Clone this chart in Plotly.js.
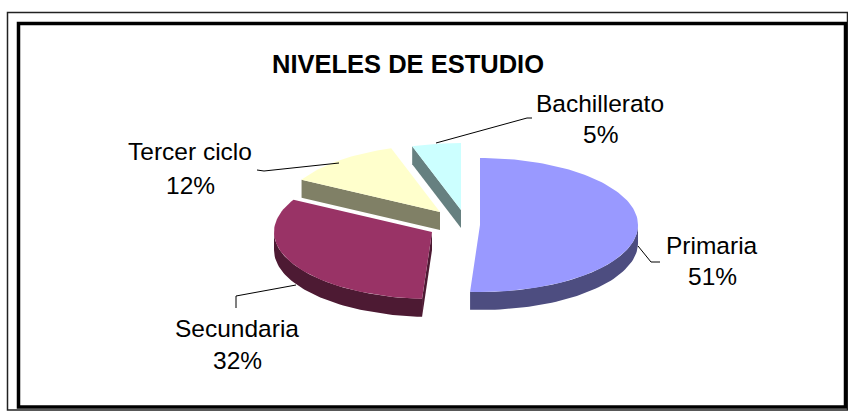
<!DOCTYPE html>
<html>
<head>
<meta charset="utf-8">
<script src="https://cdn.plot.ly/plotly-3.0.1.min.js"></script>
<style>
  html, body { margin: 0; padding: 0; background: #fff; overflow: hidden; }
  #chart { width: 848px; height: 411px; }
</style>
</head>
<body>
<div id="chart"></div>
<script>
const chartTitle = "NIVELES DE ESTUDIO";
const categories = ["Primaria", "Secundaria", "Tercer ciclo", "Bachillerato"];
const percents = [51, 32, 12, 5];

const topColors = ["#9999ff", "#993366", "#ffffcc", "#ccffff"];
const sideColors = ["#4d4d80", "#4d1a33", "#808066", "#668080"];

// each slice is pulled away from the pie, so each one has its own apex (in px)
const apexes = [[480, 225], [432, 232], [440, 212], [461, 210]];
const radiusX = 158;
const radiusY = 67;
const depth = 18;

// label placement: name centre, percent centre
const labelPos = [
  { x: 712, y: 245, py: 276 },
  { x: 237, y: 328, py: 360 },
  { x: 190, y: 151, py: 185 },
  { x: 600, y: 103, py: 134 },
];

// leader lines
const leaders = [
  "M 638 246 L 651 262 L 660 262",
  "M 236 308 L 236 296 L 296 285",
  "M 257 170 L 264 171 L 339 163",
  "M 436 143 L 527 118 L 532 118",
];

function rimPoint(i, turn, dy) {
  const a = turn * 2 * Math.PI;
  return [
    apexes[i][0] + radiusX * Math.sin(a),
    apexes[i][1] - radiusY * Math.cos(a) + dy,
  ];
}

function polygon(points, color) {
  return {
    x: points.map((p) => p[0]),
    y: points.map((p) => p[1]),
    type: "scatter",
    mode: "lines",
    fill: "toself",
    fillcolor: color,
    line: { width: 0, color: color },
    hoverinfo: "skip",
    showlegend: false,
  };
}

function arc(i, from, to, dy) {
  const pts = [];
  const steps = Math.max(2, Math.ceil(Math.abs(to - from) * 200));
  for (let s = 0; s <= steps; s++) {
    pts.push(rimPoint(i, from + ((to - from) * s) / steps, dy));
  }
  return pts;
}

// slice start/end as a fraction of the turn, clockwise from 12 o'clock
const total = percents.reduce((a, b) => a + b, 0);
let running = 0;
const spans = percents.map((v) => {
  const span = [running / total, (running + v) / total];
  running += v;
  return span;
});

const traces = [];
// back slices first so the front ones sit on top
for (const i of [3, 2, 1, 0]) {
  const [from, to] = spans[i];
  const apex = apexes[i];

  // outer wall, only the part facing the viewer
  const wallFrom = Math.max(from, 0.25);
  const wallTo = Math.min(to, 0.75);
  if (wallFrom < wallTo) {
    const wall = arc(i, wallFrom, wallTo, 0).concat(arc(i, wallTo, wallFrom, depth));
    traces.push(polygon(wall, sideColors[i]));
  }

  // cut face, Primaria's is hidden behind its own top
  if (i !== 0) {
    const rim = rimPoint(i, from, 0);
    const rimLow = rimPoint(i, from, depth);
    traces.push(polygon([apex, [apex[0], apex[1] + depth], rimLow, rim], sideColors[i]));
  }

  // top
  traces.push(polygon([apex].concat(arc(i, from, to, 0)), topColors[i]));
}

const textFont = { family: "Liberation Sans, Arial, sans-serif", size: 24.5, color: "#000" };
const annotations = [];
categories.forEach((name, i) => {
  annotations.push({ x: labelPos[i].x, y: labelPos[i].y, text: name, showarrow: false, font: textFont });
  annotations.push({ x: labelPos[i].x, y: labelPos[i].py, text: percents[i] + "%", showarrow: false, font: textFont });
});

const shapes = [
  { type: "rect", x0: 7.5, y0: 12.5, x1: 847.5, y1: 410, line: { color: "#222", width: 1.5 } },
  { type: "rect", x0: 18.5, y0: 23.5, x1: 845.5, y1: 407, line: { color: "#000", width: 3.5 } },
].concat(leaders.map((path) => ({ type: "path", path, line: { color: "#000", width: 1 } })));

const layout = {
  width: 848,
  height: 411,
  margin: { t: 0, l: 0, r: 0, b: 0 },
  paper_bgcolor: "#fff",
  plot_bgcolor: "#fff",
  showlegend: false,
  title: {
    text: "<b>" + chartTitle + "</b>",
    x: 408 / 848,
    xanchor: "center",
    y: 1 - 64 / 411,
    yanchor: "middle",
    font: { family: "Liberation Sans, Arial, sans-serif", size: 25.5, color: "#000" },
  },
  xaxis: { range: [0, 848], visible: false, fixedrange: true },
  yaxis: { range: [411, 0], visible: false, fixedrange: true },
  annotations,
  shapes,
};

Plotly.newPlot("chart", traces, layout, { displayModeBar: false });
</script>
</body>
</html>
